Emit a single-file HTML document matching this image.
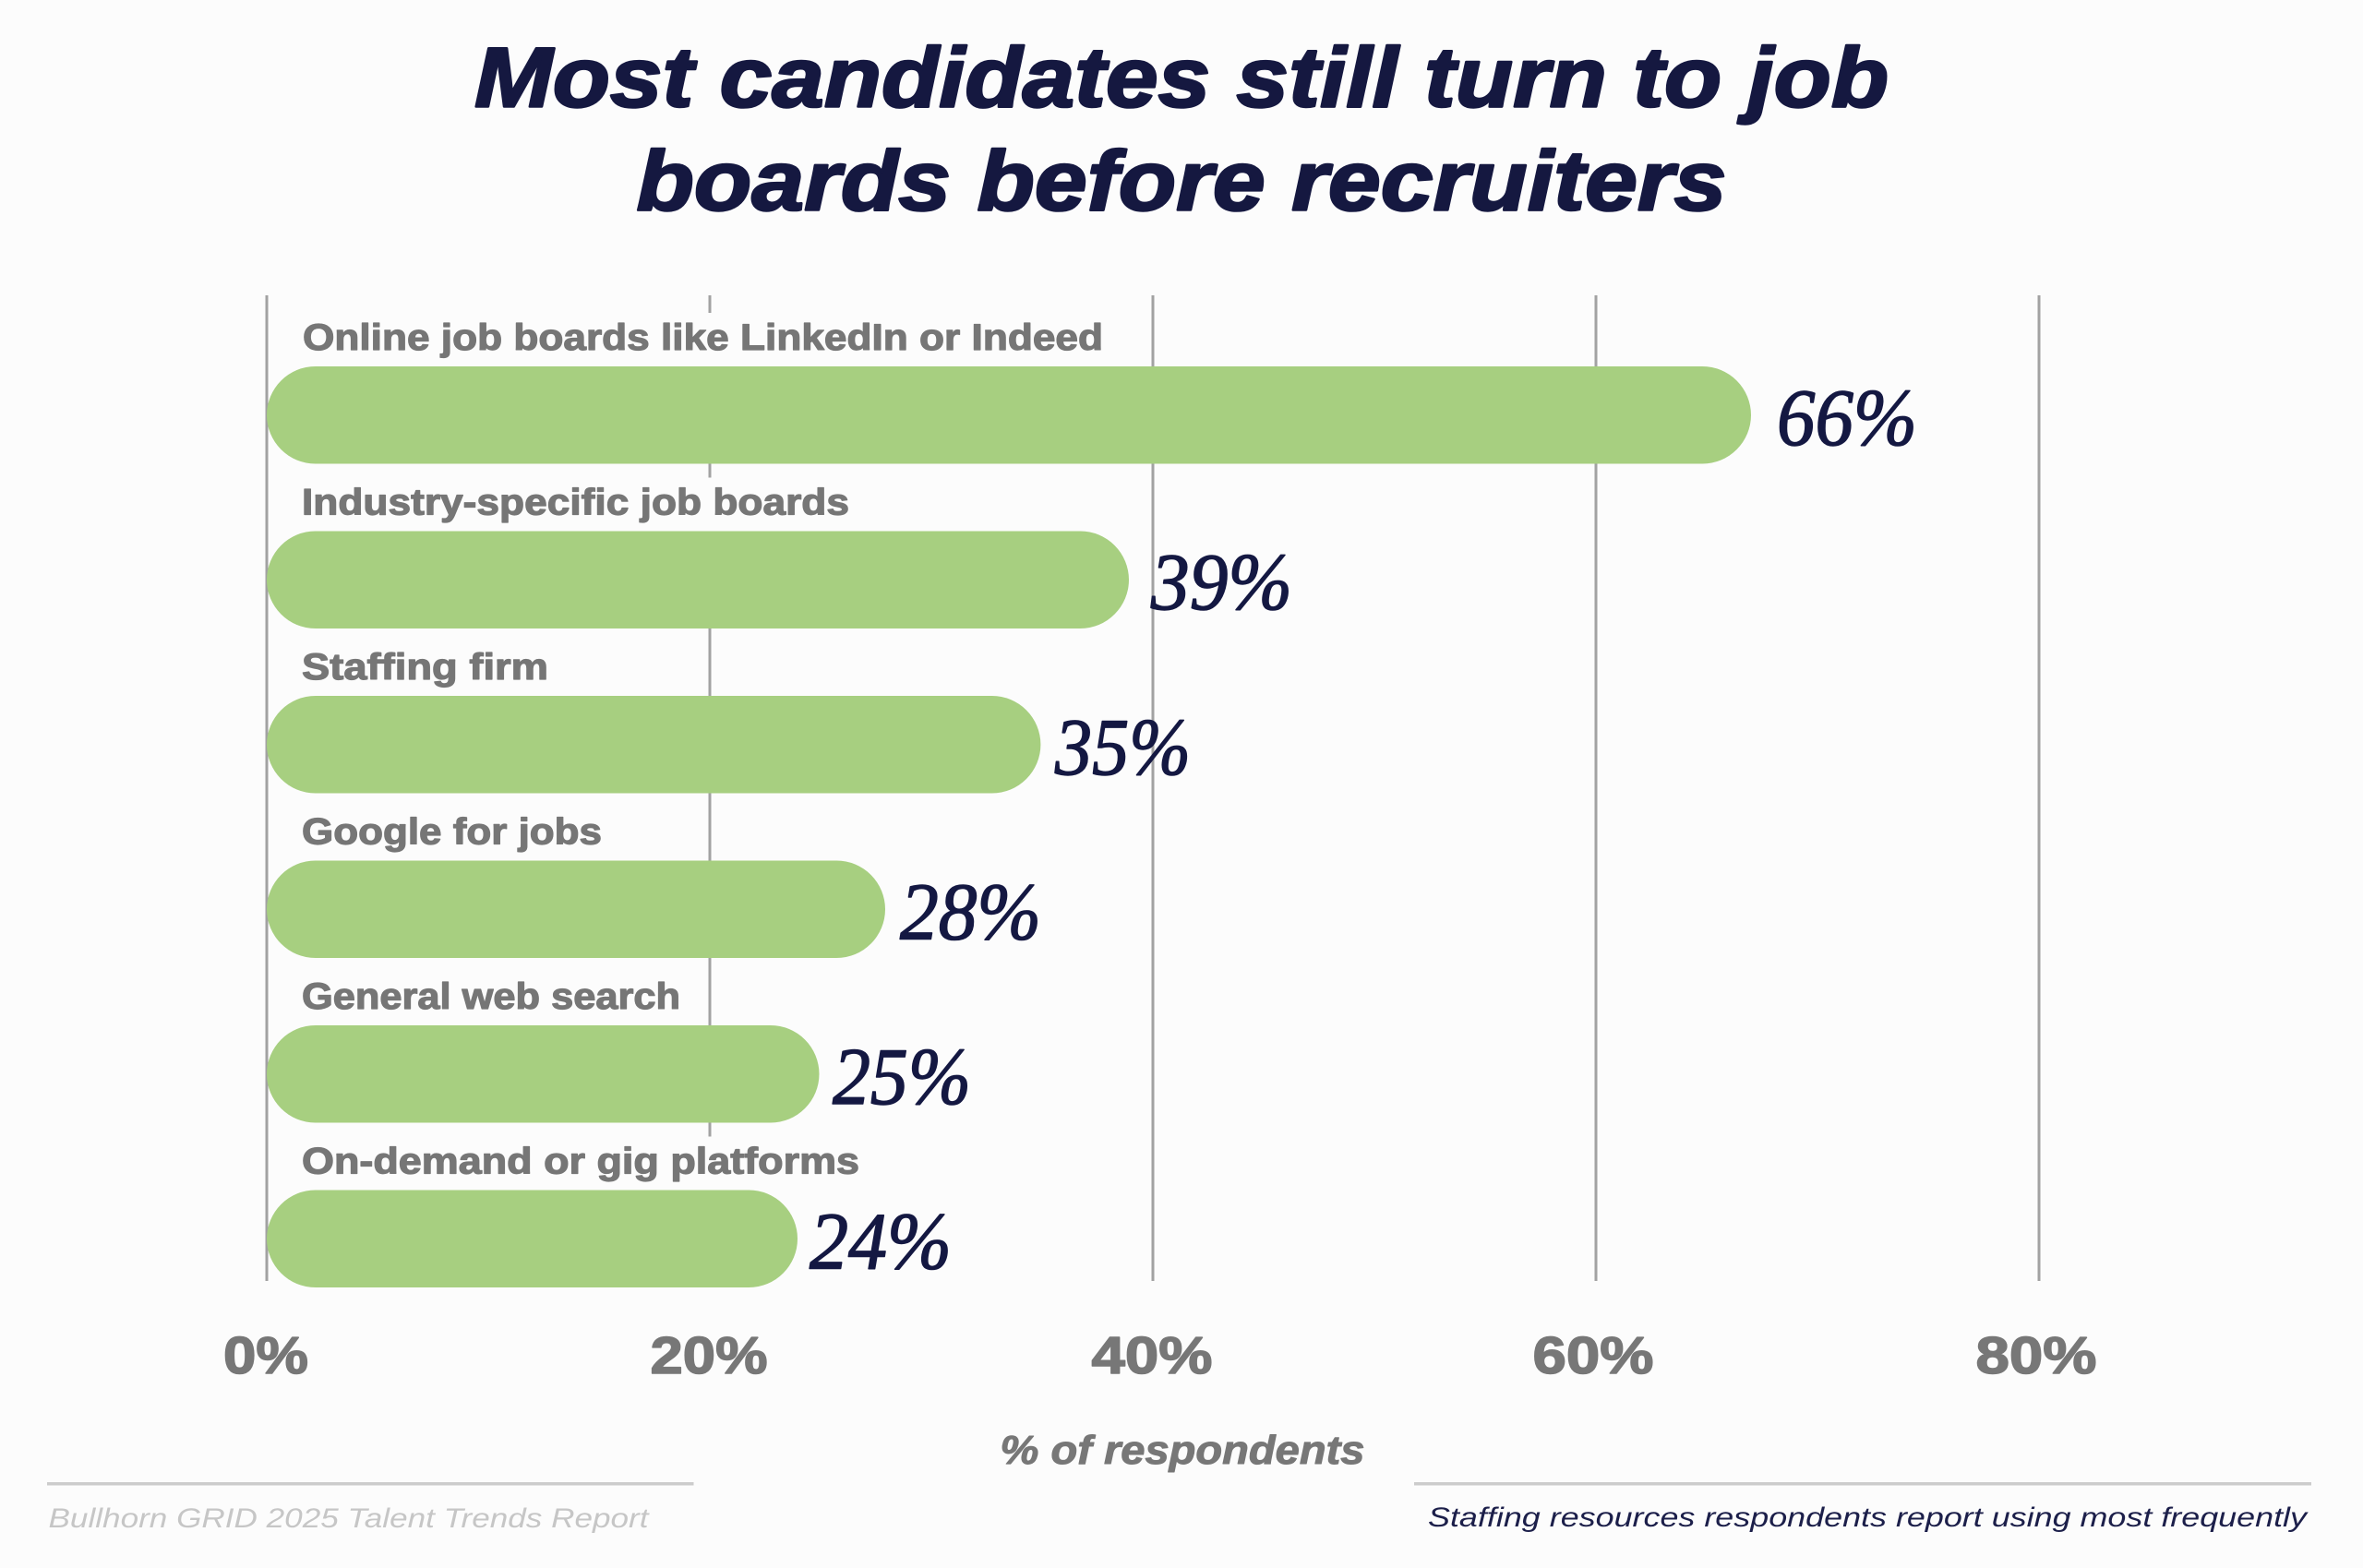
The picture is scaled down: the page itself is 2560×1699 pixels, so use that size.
<!DOCTYPE html>
<html>
<head>
<meta charset="utf-8">
<style>
  html, body { margin: 0; padding: 0; background: #fcfcfc; }
  body { width: 2560px; height: 1699px; overflow: hidden; }
  svg { display: block; }
  .title { font-family: "Liberation Sans", sans-serif; font-weight: bold; font-style: italic; font-size: 92px; fill: #151840; stroke: #151840; stroke-width: 2.5px; stroke-linejoin: round; }
  .lab { font-family: "Liberation Sans", sans-serif; font-weight: bold; font-size: 40px; fill: #767676; stroke: #767676; stroke-width: 1.2px; stroke-linejoin: round; }
  .val { font-family: "Liberation Serif", serif; font-style: italic; font-size: 88px; fill: #141842; stroke: #141842; stroke-width: 1.5px; stroke-linejoin: round; }
  .tick { font-family: "Liberation Sans", sans-serif; font-weight: bold; font-size: 57px; fill: #777777; stroke: #777777; stroke-width: 1.5px; stroke-linejoin: round; }
  .axt { font-family: "Liberation Sans", sans-serif; font-weight: bold; font-style: italic; font-size: 44px; fill: #777777; stroke: #777777; stroke-width: 1px; stroke-linejoin: round; }
  .fl { font-family: "Liberation Sans", sans-serif; font-style: italic; font-size: 30px; fill: #c6c6c6; }
  .fr { font-family: "Liberation Sans", sans-serif; font-style: italic; font-size: 30px; fill: #1c1f4a; }
</style>
</head>
<body>
<svg width="2560" height="1699" viewBox="0 0 2560 1699" xmlns="http://www.w3.org/2000/svg">
  <rect x="0" y="0" width="2560" height="1699" fill="#fcfcfc"/>

  <!-- Title -->
  <text class="title" x="1280" y="115.7" text-anchor="middle" textLength="1532" lengthAdjust="spacingAndGlyphs">Most candidates still turn to job</text>
  <text class="title" x="1280" y="227.3" text-anchor="middle" textLength="1181" lengthAdjust="spacingAndGlyphs">boards before recruiters</text>

  <!-- Gridlines -->
  <g stroke="#a2a2a2" stroke-width="3">
    <line x1="289" y1="320" x2="289" y2="1388"/>
    <line x1="769" y1="320" x2="769" y2="1388"/>
    <line x1="1249" y1="320" x2="1249" y2="1388"/>
    <line x1="1729" y1="320" x2="1729" y2="1388"/>
    <line x1="2209" y1="320" x2="2209" y2="1388"/>
  </g>

  <!-- Label background boxes (hide gridlines behind labels) -->
  <g fill="#fcfcfc">
    <rect x="300" y="339" width="905" height="58"/>
    <rect x="300" y="517.5" width="630" height="58"/>
    <rect x="300" y="696" width="304" height="58"/>
    <rect x="300" y="874.5" width="362" height="58"/>
    <rect x="300" y="1053" width="447" height="58"/>
    <rect x="300" y="1231.5" width="641" height="58"/>
  </g>

  <!-- Bars -->
  <g fill="#a7cf80">
    <rect x="289" y="397" width="1608" height="105.5" rx="52.75" ry="52.75"/>
    <rect x="289" y="575.5" width="934" height="105.5" rx="52.75" ry="52.75"/>
    <rect x="289" y="754" width="838.4" height="105.5" rx="52.75" ry="52.75"/>
    <rect x="289" y="932.5" width="670" height="105.5" rx="52.75" ry="52.75"/>
    <rect x="289" y="1111" width="598.5" height="105.5" rx="52.75" ry="52.75"/>
    <rect x="289" y="1289.5" width="575" height="105.5" rx="52.75" ry="52.75"/>
  </g>

  <!-- Category labels -->
  <text class="lab" x="328" y="379" textLength="867" lengthAdjust="spacingAndGlyphs">Online job boards like LinkedIn or Indeed</text>
  <text class="lab" x="327" y="557.5" textLength="593" lengthAdjust="spacingAndGlyphs">Industry-specific job boards</text>
  <text class="lab" x="327" y="736" textLength="267" lengthAdjust="spacingAndGlyphs">Staffing firm</text>
  <text class="lab" x="327" y="914.5" textLength="325" lengthAdjust="spacingAndGlyphs">Google for jobs</text>
  <text class="lab" x="327" y="1093" textLength="410" lengthAdjust="spacingAndGlyphs">General web search</text>
  <text class="lab" x="327" y="1271.5" textLength="604" lengthAdjust="spacingAndGlyphs">On-demand or gig platforms</text>

  <!-- Values -->
  <text class="val" x="1925" y="482" textLength="152" lengthAdjust="spacingAndGlyphs">66%</text>
  <text class="val" x="1247" y="660" textLength="153" lengthAdjust="spacingAndGlyphs">39%</text>
  <text class="val" x="1143" y="839" textLength="147" lengthAdjust="spacingAndGlyphs">35%</text>
  <text class="val" x="975" y="1017.5" textLength="153" lengthAdjust="spacingAndGlyphs">28%</text>
  <text class="val" x="902" y="1196" textLength="150" lengthAdjust="spacingAndGlyphs">25%</text>
  <text class="val" x="877" y="1374.5" textLength="154" lengthAdjust="spacingAndGlyphs">24%</text>

  <!-- Tick labels -->
  <text class="tick" x="288" y="1488" text-anchor="middle" textLength="92" lengthAdjust="spacingAndGlyphs">0%</text>
  <text class="tick" x="768" y="1488" text-anchor="middle" textLength="127" lengthAdjust="spacingAndGlyphs">20%</text>
  <text class="tick" x="1248" y="1488" text-anchor="middle" textLength="131" lengthAdjust="spacingAndGlyphs">40%</text>
  <text class="tick" x="1726" y="1488" text-anchor="middle" textLength="131" lengthAdjust="spacingAndGlyphs">60%</text>
  <text class="tick" x="2206" y="1488" text-anchor="middle" textLength="131" lengthAdjust="spacingAndGlyphs">80%</text>

  <!-- Axis title -->
  <text class="axt" x="1281" y="1586" text-anchor="middle" textLength="395" lengthAdjust="spacingAndGlyphs">% of respondents</text>

  <!-- Footer lines -->
  <g stroke="#cccccc" stroke-width="3.5">
    <line x1="51" y1="1607.7" x2="751.5" y2="1607.7"/>
    <line x1="1532" y1="1607.7" x2="2504" y2="1607.7"/>
  </g>

  <!-- Footer text -->
  <text class="fl" x="52.5" y="1655" textLength="650" lengthAdjust="spacingAndGlyphs">Bullhorn GRID 2025 Talent Trends Report</text>
  <text class="fr" x="1547" y="1654" textLength="952" lengthAdjust="spacingAndGlyphs">Staffing resources respondents report using most frequently</text>
</svg>
</body>
</html>
